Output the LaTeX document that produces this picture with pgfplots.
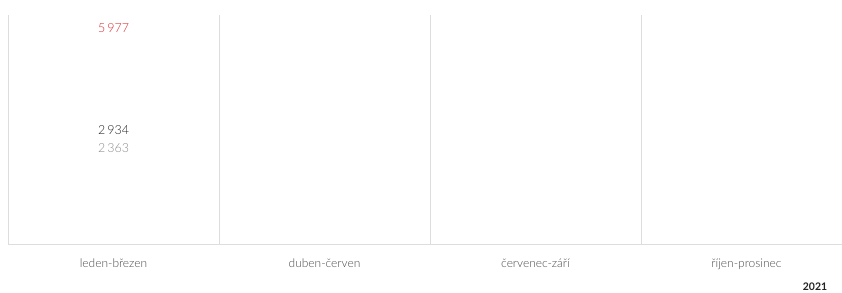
\documentclass[border=0pt]{standalone}
\usepackage{pgfplots}
\pgfplotsset{compat=1.18}
\usepackage{fontspec}
\setmainfont{Lato}
\newfontfamily\lightfont{Lato Light}
\definecolor{cred}{HTML}{D92B30}
\definecolor{cdark}{HTML}{222222}
\definecolor{clight}{HTML}{8C8C8C}
\definecolor{cline}{HTML}{DDDDDD}
\definecolor{ctick}{HTML}{4A4A4A}
\begin{document}
\begin{tikzpicture}
\begin{axis}[
  name=ax,
  scale only axis,
  width=844bp, height=229bp,
  xmin=-0.5, xmax=3.5,
  ymin=-682, ymax=6583,
  axis lines*=left,
  axis line style={cline, line width=0.8pt},
  ytick=\empty,
  xtick={0,1,2,3},
  xticklabels={leden-březen,duben-červen,červenec-září,říjen-prosinec},
  major tick length=0pt,
  minor xtick={0.5,1.5,2.5},
  minor tick length=0pt,
  xminorgrids=true,
  minor grid style={cline, line width=0.8pt},
  xticklabel style={font=\lightfont\fontsize{12}{14}\selectfont, text=ctick, yshift=-11bp},
  clip=false,
  point meta=explicit symbolic,
  nodes near coords,
  every node near coord/.append style={anchor=center, font=\lightfont\fontsize{12.5}{14}\selectfont},
]
\addplot[draw=none, mark=none, every node near coord/.append style={text=cred, yshift=6bp}] coordinates {(0,5977) [5\,977]};
\addplot[draw=none, mark=none, every node near coord/.append style={text=cdark}] coordinates {(0,2934) [2\,934]};
\addplot[draw=none, mark=none, every node near coord/.append style={text=clight}] coordinates {(0,2363) [2\,363]};
\end{axis}
\node[font=\bfseries\fontsize{10.5}{12}\selectfont, text=cdark] at ([xshift=-37bp,yshift=-43bp]ax.south east) {2021};
\pgfresetboundingbox
\path ([xshift=-8bp,yshift=-49bp]ax.south west) rectangle ([xshift=-10bp,yshift=15bp]ax.north east);
\end{tikzpicture}
\end{document}
